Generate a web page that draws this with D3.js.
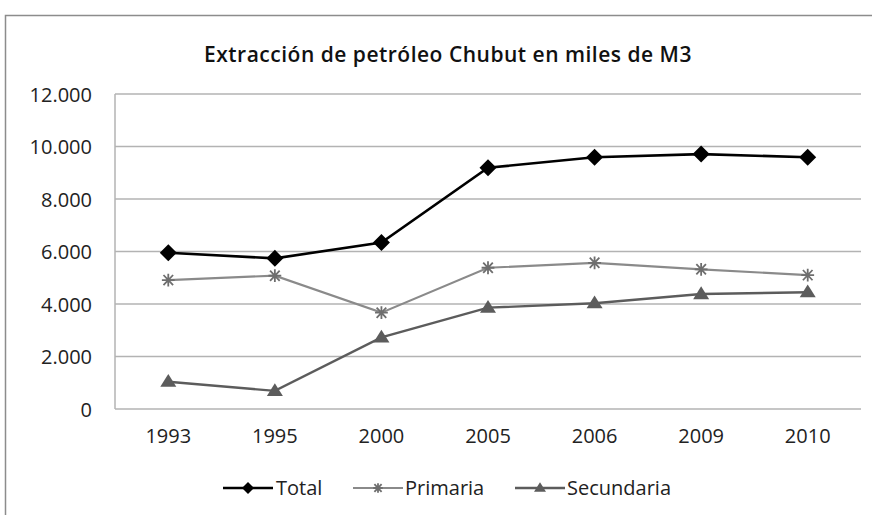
<!DOCTYPE html>
<html>
<head>
<meta charset="utf-8">
<script src="https://cdn.jsdelivr.net/npm/d3@7"></script>
<style>
  body { margin: 0; background: #fff; }
  text { font-family: "Open Sans", "DejaVu Sans", sans-serif; fill: #222; }
</style>
</head>
<body>
<div id="chart"></div>
<script>
// data (miles de M3)
var years = ["1993", "1995", "2000", "2005", "2006", "2009", "2010"];
var total = [5950, 5740, 6340, 9190, 9590, 9710, 9590];
var primaria = [4910, 5080, 3670, 5380, 5570, 5320, 5100];
var secundaria = [1040, 690, 2730, 3860, 4030, 4380, 4450];
var yTicks = [0, 2000, 4000, 6000, 8000, 10000, 12000];

var svgWidth = 872;
var svgHeight = 515;
var margin = { top: 94, right: 11, bottom: 106, left: 115 };
var width = svgWidth - margin.left - margin.right;
var height = svgHeight - margin.top - margin.bottom;

var svg = d3.select("#chart")
  .append("svg")
  .attr("width", svgWidth)
  .attr("height", svgHeight);

// chart frame (runs off the right and bottom edge like the screenshot)
svg.append("rect")
  .attr("x", 5.5).attr("y", 15.5)
  .attr("width", 900).attr("height", 600)
  .attr("fill", "none")
  .attr("stroke", "#8c8c8c")
  .attr("stroke-width", 1.5);

svg.append("text")
  .attr("x", 448).attr("y", 62)
  .attr("text-anchor", "middle")
  .style("font-size", "21px")
  .style("font-weight", "600")
  .style("letter-spacing", "0.5px")
  .style("fill", "#111")
  .text("Extracción de petróleo Chubut en miles de M3");

var chartGroup = svg.append("g")
  .attr("transform", `translate(${margin.left}, ${margin.top})`);

var xScale = d3.scaleBand().domain(years).range([0, width]);
var yScale = d3.scaleLinear().domain([0, 12000]).range([height, 0]);
var fmt = d => d3.format(",")(d).replace(/,/g, ".");

// gridlines
chartGroup.append("g")
  .selectAll("line")
  .data(yTicks)
  .enter().append("line")
  .attr("x1", 0).attr("x2", width)
  .attr("y1", d => yScale(d)).attr("y2", d => yScale(d))
  .attr("stroke", "#b3b3b3")
  .attr("stroke-width", 1.5);

chartGroup.append("line")
  .attr("x1", 0).attr("x2", 0)
  .attr("y1", 0).attr("y2", height)
  .attr("stroke", "#b3b3b3")
  .attr("stroke-width", 1.5);

var leftAxis = d3.axisLeft(yScale).tickValues(yTicks).tickFormat(fmt).tickSize(0).tickPadding(23);
var yAxisG = chartGroup.append("g").call(leftAxis);
yAxisG.select(".domain").remove();
yAxisG.selectAll("text").style("font-size", "20px").attr("dy", "0.36em");

var bottomAxis = d3.axisBottom(xScale).tickSize(0).tickPadding(20);
var xAxisG = chartGroup.append("g")
  .attr("transform", `translate(0, ${height})`)
  .call(bottomAxis);
xAxisG.select(".domain").remove();
xAxisG.selectAll("text").style("font-size", "20px");

var series = [
  { name: "Total", values: total, color: "#000", mcolor: "#000", width: 2.6, marker: "diamond" },
  { name: "Primaria", values: primaria, color: "#8a8a8a", mcolor: "#6e6e6e", width: 2.2, marker: "star" },
  { name: "Secundaria", values: secundaria, color: "#5c5c5c", mcolor: "#5c5c5c", width: 2.4, marker: "triangle" }
];

var line = d3.line()
  .x((d, i) => xScale(years[i]) + xScale.bandwidth() / 2)
  .y(d => yScale(d));

function drawMarker(g, type, color, r) {
  if (type === "diamond") {
    g.append("path").attr("d", `M0,${-r}L${r},0L0,${r}L${-r},0Z`)
      .attr("fill", color);
  } else if (type === "triangle") {
    var h = r * 1.6;
    g.append("path").attr("d", `M0,${-h * 0.6}L${r},${h * 0.4}L${-r},${h * 0.4}Z`)
      .attr("fill", color);
  } else {
    var s = r * 0.8;
    g.append("path")
      .attr("d", `M${-s},0H${s}M${-s * 0.75},${-s * 0.8}L${s * 0.75},${s * 0.8}M${-s * 0.75},${s * 0.8}L${s * 0.75},${-s * 0.8}M0,${-s}V${s}`)
      .attr("stroke", color).attr("stroke-width", 1.8).attr("fill", "none");
  }
}

series.forEach(function(s) {
  chartGroup.append("path")
    .datum(s.values)
    .attr("d", line)
    .attr("fill", "none")
    .attr("stroke", s.color)
    .attr("stroke-width", s.width);

  s.values.forEach(function(v, i) {
    var g = chartGroup.append("g")
      .attr("transform", `translate(${xScale(years[i]) + xScale.bandwidth() / 2}, ${yScale(v)})`);
    drawMarker(g, s.marker, s.mcolor, s.marker === "diamond" ? 8.5 : 8);
  });
});

// legend
var legendItems = [
  { x: 223, textX: 276 },
  { x: 353, textX: 405 },
  { x: 515, textX: 567 }
];
var legendY = 488;
series.forEach(function(s, i) {
  var lg = svg.append("g");
  lg.append("line")
    .attr("x1", legendItems[i].x).attr("x2", legendItems[i].x + 50)
    .attr("y1", legendY).attr("y2", legendY)
    .attr("stroke", s.color).attr("stroke-width", s.width);
  var m = lg.append("g").attr("transform", `translate(${legendItems[i].x + 25}, ${legendY})`);
  drawMarker(m, s.marker, s.mcolor, s.marker === "diamond" ? 6 : 6);
  lg.append("text")
    .attr("x", legendItems[i].textX).attr("y", legendY)
    .attr("dy", "0.36em")
    .style("font-size", "20px")
    .text(s.name);
});
</script>
</body>
</html>
